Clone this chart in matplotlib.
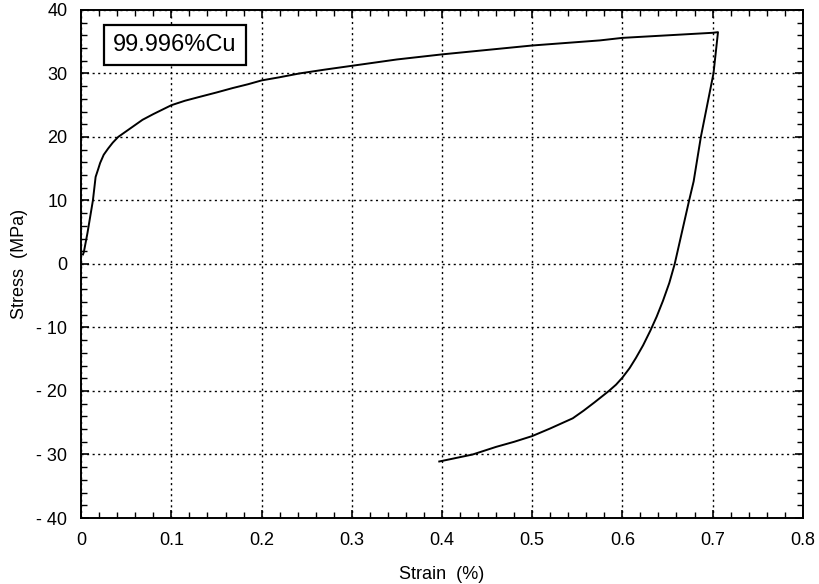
import matplotlib
matplotlib.use("Agg")
import matplotlib.pyplot as plt
from matplotlib.ticker import MultipleLocator

plt.rcParams["font.family"] = ["Liberation Sans", "DejaVu Sans"]

# loading branch (strain %, stress MPa)
load_strain = [0.002, 0.003, 0.007, 0.013, 0.016, 0.019, 0.021, 0.025, 0.030, 0.035,
               0.041, 0.050, 0.058, 0.068, 0.080, 0.090, 0.100, 0.115, 0.131, 0.150,
               0.168, 0.185, 0.200, 0.220, 0.242, 0.270, 0.300, 0.350, 0.400, 0.450,
               0.500, 0.575, 0.600, 0.650, 0.700, 0.706]
load_stress = [1.5, 1.9, 4.9, 10.0, 13.7, 15.0, 15.9, 17.2, 18.2, 19.1,
               20.0, 20.9, 21.7, 22.7, 23.6, 24.3, 25.0, 25.7, 26.3, 27.0,
               27.7, 28.3, 28.9, 29.4, 30.0, 30.6, 31.2, 32.2, 33.0, 33.7,
               34.4, 35.2, 35.6, 36.0, 36.4, 36.5]

# unloading / reverse branch
unload_strain = [0.706, 0.701, 0.687, 0.679, 0.674, 0.666, 0.658, 0.652, 0.645,
                 0.638, 0.631, 0.623, 0.615, 0.608, 0.600, 0.593, 0.585, 0.569,
                 0.557, 0.545, 0.520, 0.500, 0.480, 0.460, 0.434, 0.397]
unload_stress = [36.5, 30.0, 20.0, 13.0, 10.0, 5.0, 0.0, -3.0, -5.8,
                 -8.3, -10.5, -12.8, -14.8, -16.4, -17.9, -19.0, -20.0, -21.8,
                 -23.1, -24.3, -25.9, -27.1, -28.0, -28.8, -30.0, -31.1]

x_ticks = [0, 0.1, 0.2, 0.3, 0.4, 0.5, 0.6, 0.7, 0.8]
x_labels = ["0", "0.1", "0.2", "0.3", "0.4", "0.5", "0.6", "0.7", "0.8"]
y_ticks = [-40, -30, -20, -10, 0, 10, 20, 30, 40]
y_labels = ["- 40", "- 30", "- 20", "- 10", "0", "10", "20", "30", "40"]

fig = plt.figure(figsize=(8.2, 5.84), dpi=100)
ax = fig.add_axes([0.099, 0.113, 0.880, 0.870])

ax.plot(load_strain + unload_strain[1:], load_stress + unload_stress[1:],
        color="black", linewidth=1.4)

ax.set_xticks(x_ticks)
ax.set_xticklabels(x_labels)
ax.set_yticks(y_ticks)
ax.set_yticklabels(y_labels)
ax.xaxis.set_minor_locator(MultipleLocator(0.02))
ax.yaxis.set_minor_locator(MultipleLocator(2))
ax.set_xlim(0, 0.8)
ax.set_ylim(-40, 40)

ax.tick_params(which="both", direction="in", top=True, right=True,
               labelsize=13, color="black", pad=10)
ax.tick_params(which="major", length=6, width=1.2)
ax.tick_params(which="minor", length=4, width=1)
ax.grid(True, which="major", color="black", linestyle=(0, (1.5, 2.5)), linewidth=1)

for s in ax.spines.values():
    s.set_linewidth(1.4)

ax.set_xlabel("Strain  (%)", fontsize=13, labelpad=12)
ax.set_ylabel("Stress  (MPa)", fontsize=13, labelpad=6)

ax.text(0.13, 0.931, "99.996%Cu", transform=ax.transAxes, fontsize=17,
        ha="center", va="center",
        bbox=dict(boxstyle="square,pad=0.4", facecolor="white",
                  edgecolor="black", linewidth=1.6))

fig.savefig("out.png", dpi=100)
